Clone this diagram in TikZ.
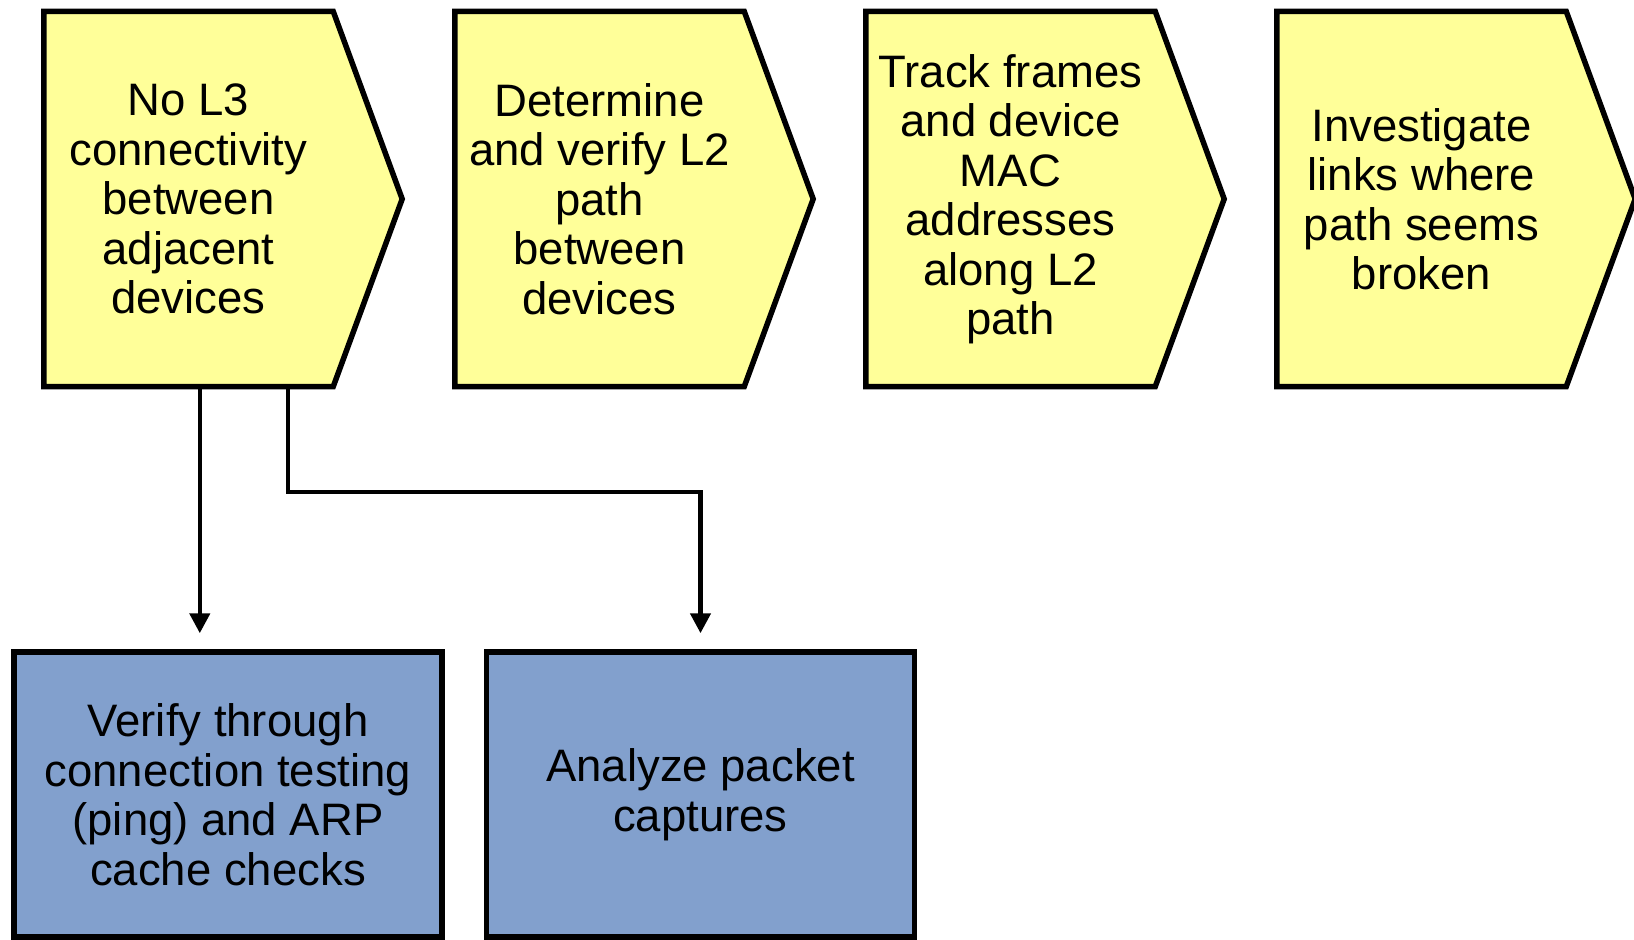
\documentclass[tikz,border=0pt]{standalone}
\usepackage{fontspec}
\setmainfont{Liberation Sans}
\usetikzlibrary{arrows.meta,backgrounds,calc}

\definecolor{stepyellow}{RGB}{255,255,153}
\definecolor{taskblue}{RGB}{130,160,205}

\tikzset{
  x=1pt, y=-1pt,
  label text/.style={align=center, font=\fontsize{45.5}{49.5}\selectfont, inner sep=0pt},
  stepbox/.style={label text, minimum width=289pt, minimum height=375pt},
  chevron/.style={draw=black, line width=5.5pt, line join=miter, fill=stepyellow},
  taskbox/.style={label text, draw=black, line width=5.5pt, fill=taskblue,
                  minimum width=428pt, minimum height=285pt},
  conn/.style={draw=black, line width=4.5pt,
               -{Triangle[length=20pt,width=20pt]}, shorten >=16pt}
}

\begin{document}
\begin{tikzpicture}
\useasboundingbox (0,0) rectangle (1634,940);

% process steps (text areas of the chevrons)
\node[stepbox] (s1) at (188.5,199) {No L3\\connectivity\\between\\adjacent\\devices};
\node[stepbox] (s2) at (599.5,199) {Determine\\and verify L2\\path\\between\\devices};
\node[stepbox] (s3) at (1010.5,199) {Track frames\\and device\\MAC\\addresses\\along L2\\path};
\node[stepbox] (s4) at (1421.5,199) {Investigate\\links where\\path seems\\broken};

% chevron outlines behind the step texts
\begin{scope}[on background layer]
  \foreach \s in {s1,s2,s3,s4}{
    \path[chevron] (\s.north west) -- (\s.north east)
      -- ([xshift=69pt]\s.east) -- (\s.south east)
      -- (\s.south west) -- cycle;
  }
\end{scope}

% follow-up tasks
\node[taskbox] (b1) at (228,794.5) {Verify through\\connection testing\\(ping) and ARP\\cache checks};
\node[taskbox] (b2) at (700.5,794.5) {Analyze packet\\captures};

% connectors
\draw[conn] ([xshift=156pt]s1.south west) -- ([xshift=156pt]s1.south west |- b1.north);
\draw[conn] ([xshift=244pt]s1.south west) -- ++(0,105.5) -| (b2.north);
\end{tikzpicture}
\end{document}
